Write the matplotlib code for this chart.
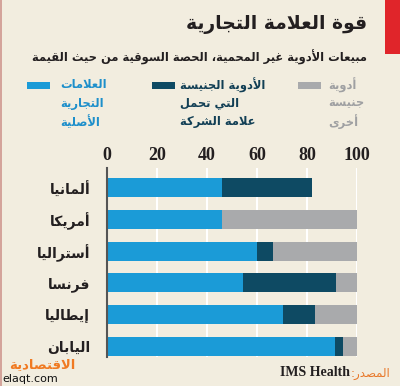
import matplotlib
matplotlib.use("Agg")
import matplotlib.pyplot as plt
from matplotlib.patches import Rectangle
import numpy as np

# ---------------- data ----------------
title = "قوة العلامة التجارية"
subtitle = "مبيعات الأدوية غير المحمية، الحصة السوقية من حيث القيمة"
countries = ["ألمانيا", "أمريكا", "أستراليا", "فرنسا", "إيطاليا", "اليابان"]
original_brands = [46, 46, 60, 54.5, 70.5, 91]
branded_generics = [36, 0, 6.5, 37, 12.5, 3.5]
other_generics = [0, 54, 33.5, 8.5, 17, 5.5]
legend_labels = [
    ["العلامات", "التجارية", "الأصلية"],
    ["الأدوية الجنيسة", "التي تحمل", "علامة الشركة"],
    ["أدوية", "جنيسة", "أخرى"],
]
x_ticks = [0, 20, 40, 60, 80, 100]
source_label = "المصدر:"
source_name = "IMS Health"
logo_text = "الاقتصادية"
logo_url = "elaqt.com"

# ---------------- minimal Arabic shaping ----------------
DUAL = {
    'ئ': 0xFE89, 'ب': 0xFE8F, 'ت': 0xFE95, 'ث': 0xFE99, 'ج': 0xFE9D, 'ح': 0xFEA1,
    'خ': 0xFEA5, 'س': 0xFEB1, 'ش': 0xFEB5, 'ص': 0xFEB9, 'ض': 0xFEBD, 'ط': 0xFEC1,
    'ظ': 0xFEC5, 'ع': 0xFEC9, 'غ': 0xFECD, 'ف': 0xFED1, 'ق': 0xFED5, 'ك': 0xFED9,
    'ل': 0xFEDD, 'م': 0xFEE1, 'ن': 0xFEE5, 'ه': 0xFEE9, 'ي': 0xFEF1,
}
RIGHT = {
    'آ': 0xFE81, 'أ': 0xFE83, 'ؤ': 0xFE85, 'إ': 0xFE87, 'ا': 0xFE8D, 'ة': 0xFE93,
    'د': 0xFEA9, 'ذ': 0xFEAB, 'ر': 0xFEAD, 'ز': 0xFEAF, 'و': 0xFEED, 'ى': 0xFEEF,
}
LAMALEF = {'آ': 0xFEF5, 'أ': 0xFEF7, 'إ': 0xFEF9, 'ا': 0xFEFB}


def is_ar(c):
    return c in DUAL or c in RIGHT or c == 'ء'


def shape(text):
    out = []
    chars = list(text)
    i = 0
    n = len(chars)
    while i < n:
        c = chars[i]
        prev = chars[i - 1] if i > 0 else ''
        joins_prev = prev in DUAL
        if c == 'ل' and i + 1 < n and chars[i + 1] in LAMALEF:
            base = LAMALEF[chars[i + 1]]
            out.append(chr(base + (1 if joins_prev else 0)))
            i += 2
            continue
        nxt = chars[i + 1] if i + 1 < n else ''
        if c in DUAL:
            joins_next = is_ar(nxt) and nxt != 'ء'
            b = DUAL[c]
            if joins_prev and joins_next:
                out.append(chr(b + 3))
            elif joins_prev:
                out.append(chr(b + 1))
            elif joins_next:
                out.append(chr(b + 2))
            else:
                out.append(chr(b))
        elif c in RIGHT:
            b = RIGHT[c]
            out.append(chr(b + 1) if joins_prev else chr(b))
        else:
            out.append(c)
        i += 1
    return ''.join(reversed(out))


# ---------------- style ----------------
BG = "#F2EDDF"
C_BLUE = "#1B9BD7"
C_DARK = "#0E4A63"
C_GREY = "#A9AAAC"
AR_FONT = ["DejaVu Sans"]

W, H = 400, 386
fig = plt.figure(figsize=(W / 100, H / 100), dpi=100)
fig.patch.set_facecolor(BG)


def fx(px):
    return px / W


def fy(py):
    return 1 - py / H


# decorations
fig.patches.append(Rectangle((fx(385), fy(54)), fx(15), 54 / H, transform=fig.transFigure,
                             facecolor="#E0252A", edgecolor="none"))
fig.patches.append(Rectangle((0, 0), fx(1.5), 1, transform=fig.transFigure,
                             facecolor="#D4A49B", edgecolor="none"))

# title & subtitle
fig.text(fx(367), fy(25), shape(title), ha="right", va="center", fontsize=13.5,
         fontweight="bold", family=AR_FONT, color="#231F20")
fig.text(fx(367), fy(57), shape(subtitle), ha="right", va="center", fontsize=8.3,
         fontweight="bold", family=AR_FONT, color="#231F20")

# legend
leg_colors = [C_BLUE, C_DARK, C_GREY]
leg_text_colors = ["#1D8FCB", "#123F55", "#9FA0A2"]
patch_x = [27, 152, 298]
text_x = [60, 180, 328]
row_y = [85, 103, 122]
for k in range(3):
    fig.patches.append(Rectangle((fx(patch_x[k]), fy(88.5)), fx(23), 7 / H,
                                 transform=fig.transFigure, facecolor=leg_colors[k],
                                 edgecolor="none"))
    for r, line in enumerate(legend_labels[k]):
        fig.text(fx(text_x[k]), fy(row_y[r]), shape(line), ha="left", va="center",
                 fontsize=8.3, fontweight="bold", family=AR_FONT,
                 color=leg_text_colors[k])

# axes
ax = fig.add_axes([fx(107), fy(357), fx(357) - fx(107), (357 - 168) / H])
ax.set_facecolor(BG)
y = np.arange(len(countries))
bh = 0.6
ob = np.array(original_brands)
bg_ = np.array(branded_generics)
og = np.array(other_generics)
ax.barh(y, ob, height=bh, color=C_BLUE, zorder=3)
ax.barh(y, bg_, left=ob, height=bh, color=C_DARK, zorder=3)
ax.barh(y, og, left=ob + bg_, height=bh, color=C_GREY, zorder=3)

ax.set_xlim(0, 100)
ax.set_ylim(5.34, -0.63)
ax.set_xticks(x_ticks)
ax.set_xticklabels([str(t) for t in x_ticks], fontsize=13, fontweight="bold",
                   family="Liberation Serif", color="#231F20")
ax.xaxis.tick_top()
ax.tick_params(axis="x", length=0, pad=3)
ax.set_yticks(y)
ax.set_yticklabels([shape(c) for c in countries], fontsize=10, fontweight="bold",
                   family=AR_FONT, color="#231F20")
ax.tick_params(axis="y", length=0, pad=12)
ax.grid(axis="x", color="white", linewidth=1.5, zorder=1)
for s in ["top", "right", "bottom"]:
    ax.spines[s].set_visible(False)
ax.spines["left"].set_color("#555555")
ax.spines["left"].set_linewidth(1.5)
ax.spines["left"].set_zorder(4)

# footer
fig.text(fx(9), fy(365), shape(logo_text), ha="left", va="center", fontsize=9.5,
         fontweight="bold", family=AR_FONT, color="#F07A22")
fig.text(fx(2), fy(379), logo_url, ha="left", va="center", fontsize=8,
         family="DejaVu Sans", color="#111111")
fig.text(fx(390), fy(373), shape(source_label), ha="right", va="center", fontsize=8.5,
         family=AR_FONT, color="#E8782A")
fig.text(fx(350), fy(373), source_name, ha="right", va="center", fontsize=10,
         fontweight="bold", family="Liberation Serif", color="#231F20")

fig.savefig("out.png", dpi=100, facecolor=BG)
